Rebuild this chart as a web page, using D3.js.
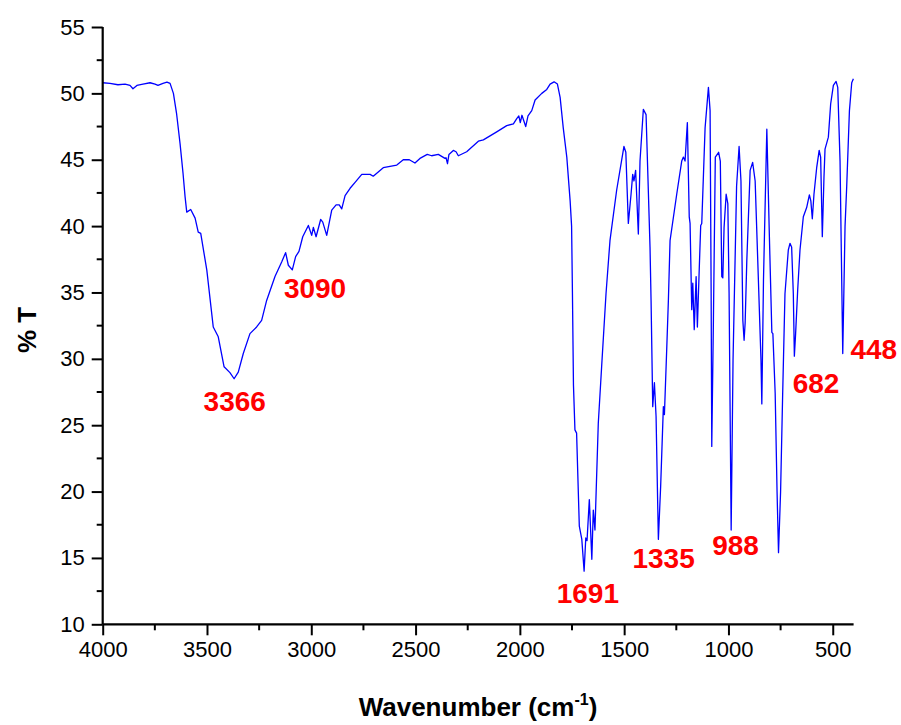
<!DOCTYPE html>
<html>
<head>
<meta charset="utf-8">
<script src="https://cdn.jsdelivr.net/npm/d3@7"></script>
<style>
  html, body { margin: 0; padding: 0; background: #fff; }
  svg { display: block; font-family: "Liberation Sans", Arial, sans-serif; }
</style>
</head>
<body>
<svg id="chart" width="901" height="725"></svg>
<script>
// Wavenumber (cm-1) and %T readings of the spectrum
const wavenumber = [
  4000,3965,3927,3893,3869,3855,3836,3807,3773,3749,3735,3711,3692,3677,3661,3646,3629,3615,3605,3597,
  3578,3557,3542,3530,3501,3470,3446,3418,3390,3370,3350,3326,3294,3262,3238,3214,3174,3142,3123,3110,
  3091,3075,3059,3041,3014,2998,2990,2977,2955,2945,2926,2902,2881,2866,2854,2838,2814,2790,2758,2718,
  2703,2655,2590,2559,2530,2503,2479,2444,2423,2391,2359,2354,2347,2340,2319,2306,2295,2255,2199,2175,
  2111,2063,2031,2015,2005,1998,1990,1972,1961,1943,1927,1895,1871,1855,1836,1820,1807,1792,1775,1759,
  1752,1748,1743,1736,1728,1715,1703,1692,1684,1678,1667,1655,1648,1640,1624,1608,1587,1568,1536,1501,
  1492,1480,1467,1459,1453,1445,1432,1424,1408,1395,1376,1371,1363,1355,1347,1336,1325,1312,1307,1296,
  1288,1280,1248,1224,1216,1208,1197,1188,1184,1176,1171,1164,1155,1149,1141,1133,1128,1112,1096,1088,
  1083,1080,1072,1063,1047,1039,1032,1027,1021,1011,1003,997,987,978,961,949,940,931,925,920,
  912,896,884,872,857,844,840,832,816,805,792,787,776,767,760,750,740,729,713,705,
  697,689,684,678,668,657,641,625,612,605,598,590,577,565,558,550,542,537,521,510,
  497,484,476,465,452,441,433,420,409,401
];
const transmittance = [
  50.8,50.75,50.65,50.7,50.6,50.35,50.6,50.7,50.8,50.7,50.6,50.75,50.85,50.75,50.0,48.5,46.2,44.0,42.2,41.05,
  41.25,40.6,39.55,39.45,36.7,32.4,31.66,29.4,28.96,28.5,29.0,30.4,31.9,32.4,32.9,34.4,36.2,37.3,38.0,37.05,
  36.7,37.7,38.1,39.2,40.05,39.3,39.9,39.2,40.5,40.3,39.3,41.2,41.6,41.6,41.3,42.3,42.85,43.3,43.9,43.9,
  43.76,44.4,44.6,45.0,45.0,44.75,45.1,45.4,45.3,45.4,45.1,45.15,44.7,45.4,45.7,45.6,45.3,45.6,46.4,46.5,
  47.1,47.57,47.7,48.1,48.3,47.8,48.35,47.5,48.3,48.7,49.5,50.0,50.3,50.7,50.87,50.7,49.7,47.4,45.2,41.9,
  40.0,35.0,28.0,24.65,24.4,17.4,16.4,14.0,16.5,16.3,19.4,14.9,18.6,17.1,25.15,29.4,34.9,38.9,42.7,46.0,
  45.56,40.2,42.4,43.9,43.4,44.2,39.4,44.9,48.8,48.4,38.4,34.4,26.4,28.2,25.65,16.4,20.4,26.4,25.8,30.7,
  34.4,38.9,42.4,44.9,45.2,44.9,47.8,40.7,40.2,33.7,35.7,32.2,36.2,32.4,36.3,40.05,40.2,47.4,50.45,48.7,
  35.0,23.4,33.0,45.2,45.56,44.9,36.2,36.1,39.9,42.4,41.7,35.0,17.1,29.9,43.0,46.0,43.4,32.9,31.4,32.7,
  37.4,44.2,44.8,43.4,36.2,29.9,26.6,36.0,47.3,40.0,32.0,31.9,27.4,20.0,15.4,20.0,27.4,34.9,38.2,38.7,
  38.4,34.9,30.2,31.9,35.2,38.2,40.7,41.4,42.35,41.9,40.55,42.4,44.4,45.7,45.2,39.2,43.7,45.8,46.7,49.2,
  50.6,50.9,50.45,44.9,30.4,40.0,43.0,48.7,50.8,51.1
];

// Peak annotations: label text and anchor (wavenumber, %T)
const peakLabels = ["3366", "3090", "1691", "1335", "988", "682", "448"];
const peakLabelX = [3367, 2982, 1674, 1311, 966, 580, 303];
const peakLabelY = [26.1, 34.57, 11.63, 14.24, 15.22, 27.43, 29.99];

const xTicks = [4000, 3500, 3000, 2500, 2000, 1500, 1000, 500];
const xMinorTicks = [3750, 3250, 2750, 2250, 1750, 1250, 750];
const yTicks = [10, 15, 20, 25, 30, 35, 40, 45, 50, 55];
const yMinorTicks = [12.5, 17.5, 22.5, 27.5, 32.5, 37.5, 42.5, 47.5, 52.5];

const svg = d3.select("#chart");
const x = d3.scaleLinear().domain([4000, 400]).range([102.7, 853.6]);
const y = d3.scaleLinear().domain([10, 55]).range([624.3, 27]);

// Spectrum line
const data = wavenumber.map((w, i) => [w, transmittance[i]]);
svg.append("path")
  .datum(data)
  .attr("fill", "none")
  .attr("stroke", "#0000ff")
  .attr("stroke-width", 1.3)
  .attr("stroke-linejoin", "round")
  .attr("d", d3.line().x(d => x(d[0])).y(d => y(d[1])));

// X axis
const xAxis = svg.append("g").attr("transform", `translate(0,${y(10)})`)
  .call(d3.axisBottom(x).tickValues(xTicks).tickSize(11).tickPadding(6).tickFormat(d3.format("d")));
xAxis.select(".domain").attr("stroke-width", 2.2).attr("d", `M${x(4000)},0H${x(400)}`);
xAxis.selectAll(".tick line").attr("stroke-width", 2);
xAxis.selectAll(".tick text").attr("font-size", 22).attr("fill", "#000")
  .style("font-family", "'Liberation Sans', Arial, sans-serif");
svg.append("g").attr("transform", `translate(0,${y(10)})`)
  .selectAll("line").data(xMinorTicks).join("line")
  .attr("x1", d => x(d)).attr("x2", d => x(d)).attr("y1", 0).attr("y2", 6)
  .attr("stroke", "#000").attr("stroke-width", 2);

// Y axis
const yAxis = svg.append("g").attr("transform", `translate(${x(4000)},0)`)
  .call(d3.axisLeft(y).tickValues(yTicks).tickSize(11).tickPadding(7));
yAxis.select(".domain").attr("stroke-width", 2.2).attr("d", `M0,${y(55)}V${y(10)}`);
yAxis.selectAll(".tick line").attr("stroke-width", 2);
yAxis.selectAll(".tick text").attr("font-size", 22).attr("fill", "#000")
  .style("font-family", "'Liberation Sans', Arial, sans-serif");
svg.append("g").attr("transform", `translate(${x(4000)},0)`)
  .selectAll("line").data(yMinorTicks).join("line")
  .attr("x1", -6).attr("x2", 0).attr("y1", d => y(d)).attr("y2", d => y(d))
  .attr("stroke", "#000").attr("stroke-width", 2);

// Axis titles
const xt = svg.append("text")
  .attr("x", 478).attr("y", 716)
  .attr("text-anchor", "middle")
  .attr("font-size", 26).attr("font-weight", "bold");
xt.append("tspan").text("Wavenumber (cm");
xt.append("tspan").attr("font-size", 16).attr("dy", -11).text("-1");
xt.append("tspan").attr("dy", 11).text(")");

svg.append("text")
  .attr("transform", `translate(36,330) rotate(-90)`)
  .attr("text-anchor", "middle")
  .attr("font-size", 26).attr("font-weight", "bold")
  .text("% T");

// Peak labels
svg.append("g").selectAll("text").data(peakLabels).join("text")
  .attr("x", (d, i) => x(peakLabelX[i]))
  .attr("y", (d, i) => y(peakLabelY[i]))
  .attr("text-anchor", "middle")
  .attr("font-size", 28).attr("font-weight", "bold")
  .attr("fill", "#ff0000")
  .text(d => d);
</script>
</body>
</html>
